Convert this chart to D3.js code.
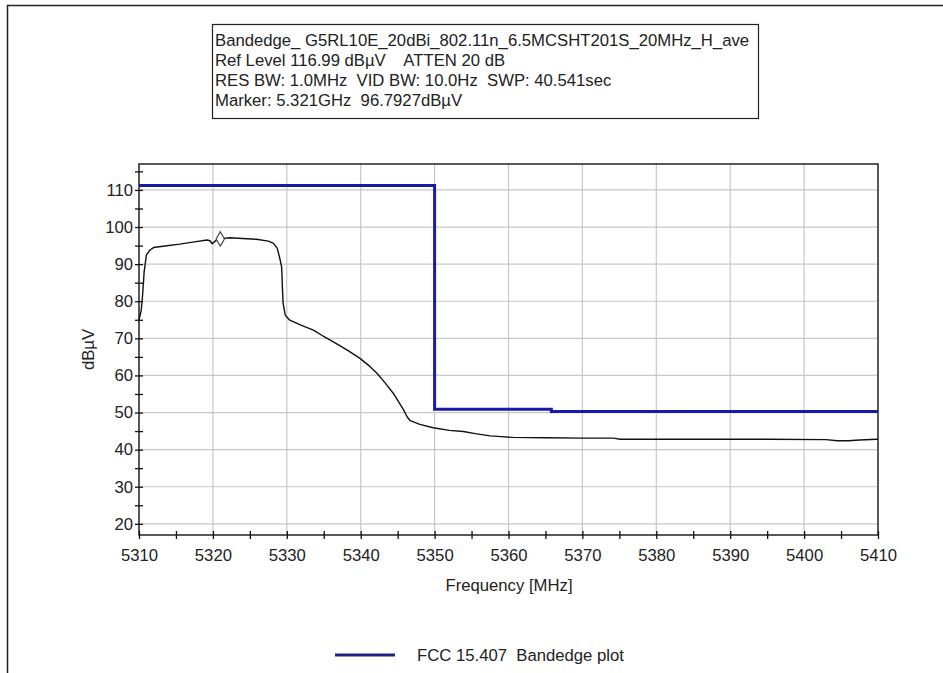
<!DOCTYPE html>
<html>
<head>
<meta charset="utf-8">
<script src="https://cdn.jsdelivr.net/npm/d3@7"></script>
<style>
  body { margin: 0; background: #fff; }
  svg { display: block; font-family: "Liberation Sans", Arial, sans-serif; }
  svg text { white-space: pre; }
</style>
</head>
<body>
<svg id="chart"></svg>
<script>
// header text of the analyzer plot
const headerLines = [
  "Bandedge_ G5RL10E_20dBi_802.11n_6.5MCSHT201S_20MHz_H_ave",
  "Ref Level 116.99 dB\u00b5V    ATTEN 20 dB",
  "RES BW: 1.0MHz  VID BW: 10.0Hz  SWP: 40.541sec",
  "Marker: 5.321GHz  96.7927dB\u00b5V"
];

const xTicks = [5310, 5320, 5330, 5340, 5350, 5360, 5370, 5380, 5390, 5400, 5410];
const yTicks = [20, 30, 40, 50, 60, 70, 80, 90, 100, 110];

// measured trace (MHz, dBuV)
const traceFreq = [5310.0, 5310.3, 5310.5, 5310.7, 5311.0, 5311.5, 5312.0, 5313.5, 5315.5, 5317.5,
  5319.2, 5319.6, 5319.9, 5320.3, 5320.7, 5322.3, 5324.0, 5325.9, 5327.5, 5328.2,
  5328.7, 5329.0, 5329.3, 5329.4, 5329.5, 5329.8, 5330.4, 5332.0, 5333.6, 5335.0,
  5336.7, 5338.3, 5339.9, 5341.2, 5342.2, 5343.3, 5344.4, 5345.2, 5345.8, 5346.3,
  5346.7, 5348.0, 5349.8, 5352.0, 5353.9, 5355.5, 5357.5, 5359.0, 5360.6, 5365.0,
  5370.0, 5374.2, 5375.1, 5380.0, 5387.7, 5395.0, 5403.0, 5404.5, 5406.0, 5407.5, 5409.8, 5410.0];
const traceLevel = [75.0, 77.5, 82.0, 88.0, 92.5, 93.8, 94.5, 94.9, 95.4, 96.0,
  96.5, 96.3, 95.5, 96.2, 96.8, 97.1, 96.9, 96.7, 96.2, 95.6,
  94.3, 92.0, 89.3, 84.0, 79.4, 76.2, 74.9, 73.5, 72.2, 70.5,
  68.6, 66.7, 64.6, 62.5, 60.6, 58.0, 55.2, 52.7, 50.7, 48.8,
  47.8, 46.8, 45.9, 45.2, 44.9, 44.3, 43.7, 43.5, 43.3, 43.2,
  43.1, 43.1, 42.8, 42.8, 42.8, 42.8, 42.7, 42.4, 42.4, 42.6, 42.8, 42.8];

// FCC 15.407 limit line
const limitFreq = [5310, 5350, 5350, 5365.8, 5365.8, 5410];
const limitLevel = [111.2, 111.2, 50.9, 50.9, 50.3, 50.3];

const markerFreq = 5321;
const markerLevel = 96.79;

const legendLabel = "FCC 15.407  Bandedge plot";

const W = 943, H = 673;
const plot = { left: 139, right: 878, top: 164, bottom: 535 };
const fs = "16.7px";

const svg = d3.select("#chart").attr("width", W).attr("height", H);

// outer frame
svg.append("path")
  .attr("d", `M7.5,${H} V5.5 H${W}`)
  .attr("fill", "none").attr("stroke", "#222").attr("stroke-width", 1.5);

// header box
const box = svg.append("g");
box.append("rect")
  .attr("x", 212.5).attr("y", 24.5).attr("width", 546).attr("height", 94)
  .attr("fill", "#fff").attr("stroke", "#222").attr("stroke-width", 1.2);
box.selectAll("text")
  .data(headerLines)
  .join("text")
  .attr("x", 215)
  .attr("y", (d, i) => 46 + i * 20)
  .attr("font-size", fs)
  .attr("fill", "#222")
  .text(d => d);

const x = d3.scaleLinear().domain([5310, 5410]).range([plot.left, plot.right]);
const y = d3.scaleLinear().domain([16.99, 116.99]).range([plot.bottom, plot.top]);

// grid
const grid = svg.append("g").attr("stroke", "#c8c8c8").attr("stroke-width", 1.2);
grid.selectAll(".gx")
  .data(xTicks.slice(1, -1))
  .join("line")
  .attr("x1", d => x(d)).attr("x2", d => x(d))
  .attr("y1", plot.top).attr("y2", plot.bottom);
grid.selectAll(".gy")
  .data(yTicks)
  .join("line")
  .attr("x1", plot.left).attr("x2", plot.right)
  .attr("y1", d => y(d)).attr("y2", d => y(d));

// frame of plot area
svg.append("rect")
  .attr("x", plot.left).attr("y", plot.top)
  .attr("width", plot.right - plot.left).attr("height", plot.bottom - plot.top)
  .attr("fill", "none").attr("stroke", "#222").attr("stroke-width", 1.5);

// axes
const xAxis = d3.axisBottom(x)
  .tickValues(d3.range(5310, 5411, 5))
  .tickSizeInner(8).tickSizeOuter(0).tickPadding(5)
  .tickFormat(d => d % 10 === 0 ? d : "");
const xG = svg.append("g")
  .attr("transform", `translate(0,${plot.bottom - 4})`)
  .call(xAxis);
xG.select(".domain").remove();
xG.selectAll("line").attr("stroke", "#111").attr("stroke-width", 1.3);
xG.selectAll("text").attr("font-size", fs).attr("fill", "#222")
  .attr("font-family", "Liberation Sans, Arial, sans-serif").attr("dy", "1em");

const yAxis = d3.axisLeft(y)
  .tickValues(d3.range(20, 116, 5))
  .tickSizeInner(8).tickSizeOuter(0).tickPadding(2)
  .tickFormat(d => d % 10 === 0 ? d : "");
const yG = svg.append("g")
  .attr("transform", `translate(${plot.left + 4},0)`)
  .call(yAxis);
yG.select(".domain").remove();
yG.selectAll("line").attr("stroke", "#111").attr("stroke-width", 1.3);
yG.selectAll("text").attr("font-size", fs).attr("fill", "#222")
  .attr("font-family", "Liberation Sans, Arial, sans-serif");

// axis titles
svg.append("text")
  .attr("x", 509).attr("y", 591)
  .attr("text-anchor", "middle").attr("font-size", fs).attr("fill", "#222")
  .text("Frequency [MHz]");
svg.append("text")
  .attr("transform", `translate(94,${(plot.top + plot.bottom) / 2}) rotate(-90)`)
  .attr("text-anchor", "middle").attr("font-size", fs).attr("fill", "#222")
  .text("dB\u00b5V");

// lines
const line = d3.line().x(d => x(d[0])).y(d => y(d[1]));

svg.append("path")
  .datum(d3.zip(limitFreq, limitLevel))
  .attr("d", line)
  .attr("fill", "none").attr("stroke", "#1a1aa8").attr("stroke-width", 3);

svg.append("path")
  .datum(d3.zip(traceFreq, traceLevel))
  .attr("d", line)
  .attr("fill", "none").attr("stroke", "#111").attr("stroke-width", 1.4)
  .attr("stroke-linejoin", "round");

// marker diamond
svg.append("path")
  .attr("d", d3.symbol(d3.symbolDiamond, 60)())
  .attr("transform", `translate(${x(markerFreq)},${y(markerLevel)})`)
  .attr("fill", "#fff").attr("stroke", "#444").attr("stroke-width", 1.2);

// legend
svg.append("line")
  .attr("x1", 335).attr("x2", 395).attr("y1", 655).attr("y2", 655)
  .attr("stroke", "#22227e").attr("stroke-width", 3);
svg.append("text")
  .attr("x", 417).attr("y", 661)
  .attr("font-size", fs).attr("fill", "#222")
  .text(legendLabel);
</script>
</body>
</html>
